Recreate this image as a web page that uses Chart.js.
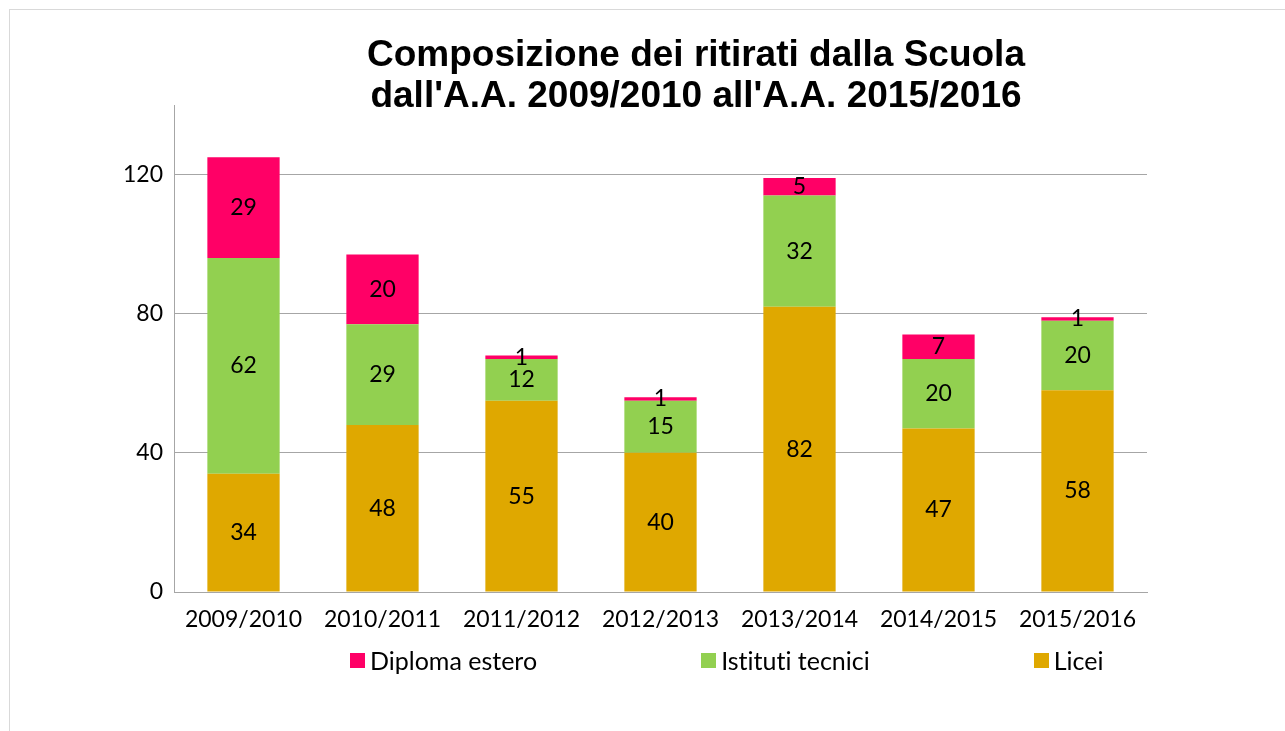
<!DOCTYPE html>
<html>
<head>
<meta charset="utf-8">
<title>Composizione dei ritirati dalla Scuola</title>
<script src="https://cdn.jsdelivr.net/npm/chart.js@4.4.1/dist/chart.umd.min.js"></script>
<style>
  html, body { margin: 0; padding: 0; background: #fff; overflow: hidden; }
  #frame {
    position: absolute; left: 9px; top: 9px; width: 1400px; height: 800px;
    border: 1px solid #d9d9d9;
  }
  #wrap { position: absolute; left: 0; top: 0; width: 1285px; height: 731px; }
  #chartTitle {
    position: absolute; left: 196px; top: 33px; width: 1000px;
    text-align: center; font-family: "Liberation Sans", Arial, sans-serif;
    font-weight: bold; font-size: 37px; line-height: 41px; color: #000;
  }
  #legend {
    position: absolute; left: 350px; top: 645px; display: flex; gap: 164px;
    font-family: Lato, "Open Sans", sans-serif; font-size: 25px; color: #000;
    font-variant-ligatures: none;
  }
  #legend .item { display: flex; align-items: center; }
  #legend .box { width: 15px; height: 15px; margin-right: 5px; }
</style>
</head>
<body>
<div id="frame"></div>
<div id="wrap"><canvas id="chart" width="1285" height="731"></canvas></div>
<div id="chartTitle">Composizione dei ritirati dalla Scuola<br>dall'A.A. 2009/2010 all'A.A. 2015/2016</div>
<div id="legend"></div>
<script>
const years = ['2009/2010', '2010/2011', '2011/2012', '2012/2013', '2013/2014', '2014/2015', '2015/2016'];
const licei = [34, 48, 55, 40, 82, 47, 58];
const istitutiTecnici = [62, 29, 12, 15, 32, 20, 20];
const diplomaEstero = [29, 20, 1, 1, 5, 7, 1];
const yTicks = [0, 40, 80, 120];

const labelFont = { family: 'Lato', size: 23 };

// draws the value in the middle of each segment
const segmentLabels = {
  id: 'segmentLabels',
  afterDatasetsDraw(chart) {
    const ctx = chart.ctx;
    ctx.save();
    ctx.font = `${labelFont.size}px ${labelFont.family}`;
    ctx.fillStyle = '#000';
    ctx.textAlign = 'center';
    ctx.textBaseline = 'middle';
    chart.data.datasets.forEach((ds, i) => {
      chart.getDatasetMeta(i).data.forEach((bar, j) => {
        ctx.fillText(ds.data[j], bar.x, (bar.y + bar.base) / 2);
      });
    });
    ctx.restore();
  },
};

// legend in html, in the order Excel shows it
const htmlLegend = {
  id: 'htmlLegend',
  afterUpdate(chart) {
    const box = document.getElementById('legend');
    box.innerHTML = '';
    const items = chart.options.plugins.legend.labels.generateLabels(chart).reverse();
    items.forEach((item) => {
      const el = document.createElement('div');
      el.className = 'item';
      el.innerHTML = `<span class="box" style="background:${item.fillStyle}"></span><span>${item.text}</span>`;
      box.appendChild(el);
    });
  },
};

new Chart(document.getElementById('chart'), {
  type: 'bar',
  data: {
    labels: years,
    datasets: [
      { label: 'Licei', data: licei, backgroundColor: '#DFA800' },
      { label: 'Istituti tecnici', data: istitutiTecnici, backgroundColor: '#92D050' },
      { label: 'Diploma estero', data: diplomaEstero, backgroundColor: '#FF0066' },
    ],
  },
  options: {
    responsive: false,
    animation: false,
    layout: { padding: { left: 74, right: 138, top: 105, bottom: 89 } },
    datasets: { bar: { categoryPercentage: 0.52, barPercentage: 1 } },
    scales: {
      x: {
        stacked: true,
        afterFit: (scale) => { scale.height = 50; },
        grid: { display: false, drawTicks: false },
        border: { color: '#a6a6a6', width: 1 },
        ticks: { color: '#000', font: labelFont, padding: 14 },
      },
      y: {
        stacked: true,
        min: 0,
        max: 140,
        afterFit: (scale) => { scale.width = 100; },
        afterBuildTicks: (scale) => { scale.ticks = yTicks.map((v) => ({ value: v })); },
        grid: { color: '#a6a6a6', drawTicks: false },
        border: { color: '#a6a6a6', width: 1 },
        ticks: { color: '#000', font: labelFont, padding: 11 },
      },
    },
    plugins: {
      legend: { display: false },
      title: { display: false },
      tooltip: { enabled: false },
    },
  },
  plugins: [segmentLabels, htmlLegend],
});
</script>
</body>
</html>
